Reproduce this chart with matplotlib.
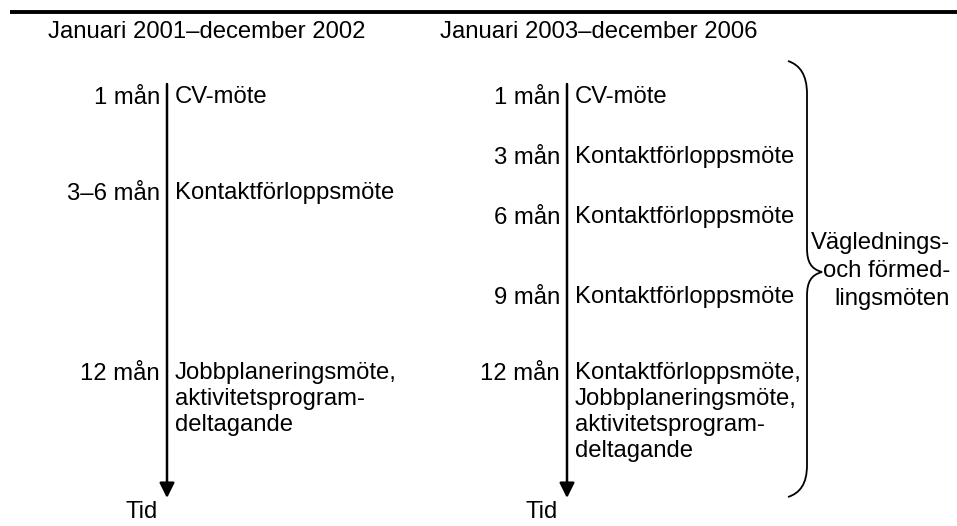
import matplotlib.pyplot as plt
from matplotlib.path import Path
from matplotlib.patches import PathPatch

plt.rcParams['font.family'] = ['Liberation Sans', 'DejaVu Sans']

# periods (headers)
headers = ['Januari 2001–december 2002', 'Januari 2003–december 2006']

# left timeline: time label, meeting text, y position in pixels
left_times = ['1 mån', '3–6 mån', '12 mån']
left_texts = ['CV-möte', 'Kontaktförloppsmöte',
              'Jobbplaneringsmöte,\naktivitetsprogram-\ndeltagande']
left_y = [97, 193, 373]

# right timeline
right_times = ['1 mån', '3 mån', '6 mån', '9 mån', '12 mån']
right_texts = ['CV-möte', 'Kontaktförloppsmöte', 'Kontaktförloppsmöte',
               'Kontaktförloppsmöte',
               'Kontaktförloppsmöte,\nJobbplaneringsmöte,\naktivitetsprogram-\ndeltagande']
right_y = [97, 157, 217, 297, 373]

brace_label = 'Väglednings-\noch förmed-\nlingsmöten'

W, H = 957, 526
fig = plt.figure(figsize=(W / 100, H / 100), dpi=100)
ax = fig.add_axes([0, 0, 1, 1])
ax.set_xlim(0, W)
ax.set_ylim(H, 0)
ax.axis('off')

fs = 17.2
ax.plot([10, W], [12, 12], color='black', lw=2.8, solid_capstyle='butt')


def timeline(x, header, header_x, times, texts, ys):
    ax.text(header_x, 32, header, fontsize=fs, ha='left', va='center')
    ax.annotate('', xy=(x, 498), xytext=(x, 84),
                arrowprops=dict(arrowstyle='-|>,head_length=0.9,head_width=0.45',
                                color='black', lw=1.8, shrinkA=0, shrinkB=0))
    ax.text(x - 9, 512, 'Tid', fontsize=fs, ha='right', va='center')
    for t, s, y in zip(times, texts, ys):
        ax.text(x - 7, y + 1, t, fontsize=fs, ha='right', va='center')
        ax.text(x + 8, y - 11, s, fontsize=fs, ha='left', va='top',
                linespacing=1.24)


timeline(167, headers[0], 48, left_times, left_texts, left_y)
timeline(567, headers[1], 440, right_times, right_texts, right_y)

# curly brace
verts = [(788, 61), (800, 65), (807, 75), (807, 94),
         (807, 248),
         (807, 262), (811, 269), (822, 272),
         (811, 275), (807, 282), (807, 296),
         (807, 465),
         (807, 484), (800, 493), (788, 497)]
codes = [Path.MOVETO, Path.CURVE4, Path.CURVE4, Path.CURVE4,
         Path.LINETO,
         Path.CURVE4, Path.CURVE4, Path.CURVE4,
         Path.CURVE4, Path.CURVE4, Path.CURVE4,
         Path.LINETO,
         Path.CURVE4, Path.CURVE4, Path.CURVE4]
ax.add_patch(PathPatch(Path(verts, codes), facecolor='none', edgecolor='black', lw=1.3))
ax.text(950, 271, brace_label, fontsize=fs, ha='right', va='center',
        linespacing=1.35)

fig.savefig('out.png', dpi=100)
